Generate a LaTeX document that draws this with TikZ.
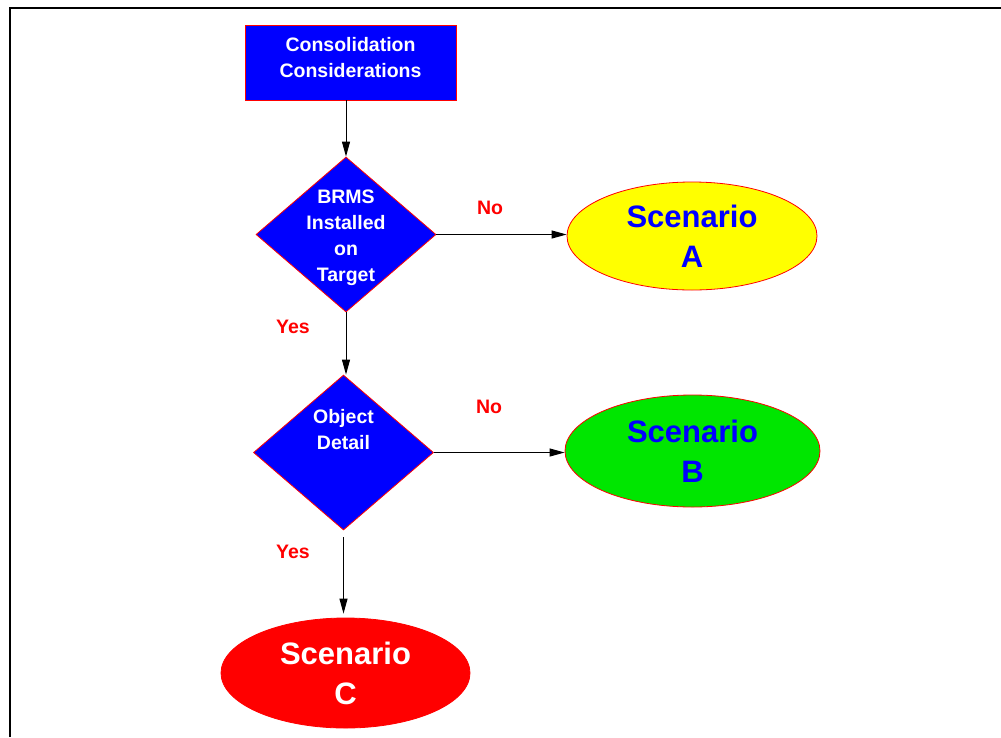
\documentclass[tikz,border=0pt]{standalone}
\usepackage{fontspec}
\setmainfont{Liberation Sans}
\usetikzlibrary{shapes.geometric,arrows.meta}
\definecolor{fcblue}{RGB}{0,0,255}
\definecolor{fcgreen}{RGB}{0,230,0}
\definecolor{fcyellow}{RGB}{255,255,0}
\definecolor{fcred}{RGB}{255,0,0}

\begin{document}
\begin{tikzpicture}[x=1pt,y=1pt,yscale=-1,
  flowbox/.style={draw=fcred,fill=fcblue,line width=0.8pt,minimum width=211pt,minimum height=75pt,inner sep=0pt},
  decision/.style={diamond,draw=fcred,fill=fcblue,line width=0.8pt,minimum width=180pt,minimum height=155pt,inner sep=0pt},
  scenario/.style={ellipse,draw=fcred,line width=0.8pt,inner sep=0pt,align=center,font=\fontsize{31}{40}\selectfont\bfseries},
  boxtext/.style={align=center,text=white,inner sep=0pt,font=\fontsize{19.5}{26}\selectfont\bfseries},
  answer/.style={text=fcred,inner sep=0pt,font=\fontsize{19.5}{24}\selectfont\bfseries},
  flow/.style={-{Triangle[length=15pt,width=8pt]},line width=1pt}]
\useasboundingbox (0,0) rectangle (1001,737);

%Shape: Frame
\draw[line width=1.2pt] (10,737) -- (10,8) -- (1001,8);

%Shape: Rectangle
\node[flowbox] (cons) at (350.5,62.5) {};
% Text Node
\node[boxtext] (constxt) at (350.5,58) {Consolidation\\Considerations};

%Shape: Diamond
\node[decision] (brms) at (346,234.5) {};
% Text Node
\node[boxtext] (brmstxt) at (346,238) {BRMS\\Installed\\on\\Target};

%Shape: Ellipse
\node[scenario,fill=fcyellow,text=fcblue,minimum width=250pt,minimum height=108pt] (scena) at (692,236) {Scenario\\A};

%Shape: Diamond
\node[decision] (obj) at (343.5,452.5) {};
% Text Node
\node[boxtext] (objtxt) at (343.5,430) {Object\\Detail};

%Shape: Ellipse
\node[scenario,fill=fcgreen,text=fcblue,minimum width=255pt,minimum height=112pt] (scenb) at (692.5,451) {Scenario\\B};

%Shape: Ellipse
\node[scenario,fill=fcred,text=white,minimum width=249pt,minimum height=110pt] (scenc) at (345.5,673) {Scenario\\C};

% Text Node
\node[answer] (noa) at (490,208) {No};
% Text Node
\node[answer] (nob) at (489,407) {No};
% Text Node
\node[answer] (yesa) at (293,327) {Yes};
% Text Node
\node[answer] (yesb) at (293,552) {Yes};

%Straight Lines
\draw[flow] (cons.south -| brms.north) -- (brms.north);
\draw[flow] (brms.east) -- (brms.east -| scena.west);
\draw[flow] (brms.south) -- (brms.south |- obj.north);
\draw[flow] (obj.east) -- (obj.east -| scenb.west);
\draw[flow,shorten <=7pt,shorten >=4pt] (obj.south) -- (obj.south |- scenc.north);

\end{tikzpicture}
\end{document}
